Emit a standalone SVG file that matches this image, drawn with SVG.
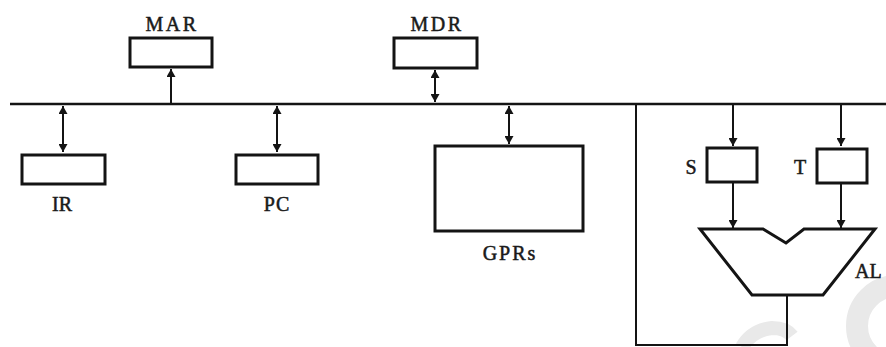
<svg xmlns="http://www.w3.org/2000/svg" width="886" height="347" viewBox="0 0 886 347">
<style>
  .box { fill: none; stroke: #141414; stroke-width: 3; }
  .line { fill: none; stroke: #141414; stroke-width: 2; }
  .bus { fill: none; stroke: #141414; stroke-width: 2.5; }
  .lbl { font-family: "Liberation Serif", serif; font-size: 20px; fill: #1a1a1a; stroke: #1a1a1a; stroke-width: 0.5; }
  .wm { fill: none; stroke: #e9e9e9; }
</style>
<defs>
  <marker id="ah" markerUnits="userSpaceOnUse" markerWidth="8" markerHeight="9" refX="8" refY="4.5" orient="auto-start-reverse">
    <path d="M0,0 L8,4.5 L0,9 z" fill="#141414"/>
  </marker>
</defs>
<rect width="886" height="347" fill="#ffffff"/>
<g id="watermark">
  <circle class="wm" cx="897" cy="326" r="40" stroke-width="22"/>
  <path class="wm" d="M742 347 Q752 330 772 328 Q786 328 792 336" stroke-width="14"/>
</g>
<g id="connectors">
  <line class="bus" x1="10" y1="104" x2="886" y2="104"/>
  <line class="line" x1="171" y1="104" x2="171" y2="69" marker-end="url(#ah)"/>
  <line class="line" x1="435" y1="70" x2="435" y2="102" marker-start="url(#ah)" marker-end="url(#ah)"/>
  <line class="line" x1="63" y1="106" x2="63" y2="152" marker-start="url(#ah)" marker-end="url(#ah)"/>
  <line class="line" x1="277" y1="106" x2="277" y2="152" marker-start="url(#ah)" marker-end="url(#ah)"/>
  <line class="line" x1="509" y1="106" x2="509" y2="144" marker-start="url(#ah)" marker-end="url(#ah)"/>
  <line class="line" x1="733" y1="104" x2="733" y2="146" marker-end="url(#ah)"/>
  <line class="line" x1="841" y1="104" x2="841" y2="146" marker-end="url(#ah)"/>
  <line class="line" x1="733" y1="182" x2="733" y2="228" marker-end="url(#ah)"/>
  <line class="line" x1="841" y1="183" x2="841" y2="228" marker-end="url(#ah)"/>
  <polyline class="line" points="787,295 787,345 636,345 636,104"/>
</g>
<g id="MAR">
  <rect class="box" x="130" y="38" width="82" height="29"/>
  <text class="lbl" x="172" y="31" text-anchor="middle" letter-spacing="2.5" font-size="21">MAR</text>
</g>
<g id="MDR">
  <rect class="box" x="394" y="38" width="83" height="30"/>
  <text class="lbl" x="437" y="31" text-anchor="middle" letter-spacing="2.5" font-size="21">MDR</text>
</g>
<g id="IR">
  <rect class="box" x="22" y="155" width="83" height="29"/>
  <text class="lbl" x="62" y="211" text-anchor="middle">IR</text>
</g>
<g id="PC">
  <rect class="box" x="236" y="155" width="82" height="29"/>
  <text class="lbl" x="277" y="211" text-anchor="middle" letter-spacing="1">PC</text>
</g>
<g id="GPRs">
  <rect class="box" x="435" y="146" width="148" height="85"/>
  <text class="lbl" x="510" y="260" text-anchor="middle" letter-spacing="2" font-size="21">GPRs</text>
</g>
<g id="S">
  <rect class="box" x="707" y="148" width="50" height="34"/>
  <text class="lbl" x="691" y="174" text-anchor="middle">S</text>
</g>
<g id="T">
  <rect class="box" x="817" y="149" width="50" height="34"/>
  <text class="lbl" x="800" y="174" text-anchor="middle">T</text>
</g>
<g id="ALU">
  <path class="box" d="M700,229 L763,229 L786,243 L804,229 L875,229 L823,295 L752,295 Z" stroke-width="2.5" stroke-linejoin="miter"/>
  <text class="lbl" x="855" y="278">AL</text>
</g>
</svg>
